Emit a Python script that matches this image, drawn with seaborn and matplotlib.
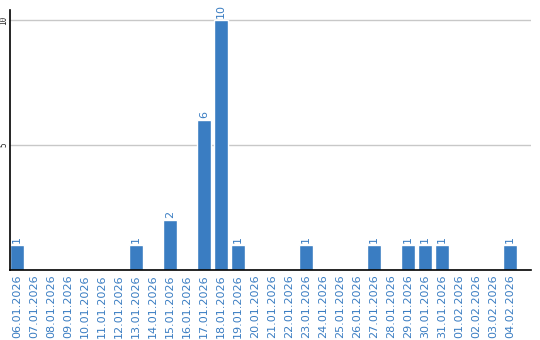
import matplotlib
matplotlib.use("Agg")
import matplotlib.pyplot as plt
import seaborn as sns
import pandas as pd

dates = ["06.01.2026", "07.01.2026", "08.01.2026", "09.01.2026", "10.01.2026",
         "11.01.2026", "12.01.2026", "13.01.2026", "14.01.2026", "15.01.2026",
         "16.01.2026", "17.01.2026", "18.01.2026", "19.01.2026", "20.01.2026",
         "21.01.2026", "22.01.2026", "23.01.2026", "24.01.2026", "25.01.2026",
         "26.01.2026", "27.01.2026", "28.01.2026", "29.01.2026", "30.01.2026",
         "31.01.2026", "01.02.2026", "02.02.2026", "03.02.2026", "04.02.2026"]
counts = [1, 0, 0, 0, 0, 0, 0, 1, 0, 2,
          0, 6, 10, 1, 0, 0, 0, 1, 0, 0,
          0, 1, 0, 1, 1, 1, 0, 0, 0, 1]
yticks = [5, 10]

BLUE = "#3a7dc2"
sns.set_style("white")
plt.rcParams['font.family'] = ['DejaVu Sans']

df = pd.DataFrame({"date": dates, "count": counts})

fig = plt.figure(figsize=(5.4, 3.4), dpi=100)
ax = fig.add_axes([10 / 540, 70 / 340, 521 / 540, 260 / 340])
sns.barplot(data=df, x="date", y="count", color=BLUE, saturation=1,
            width=14 / 17, ax=ax, zorder=3)
ax.set_xlim(-0.412, 30.24)
ax.set_ylim(0, 10.4)
ax.set_yticks(yticks)
ax.set_yticklabels([str(v) for v in yticks], rotation=90, fontsize=5.5,
                   family="DejaVu Sans Mono", va="center")
ax.tick_params(axis="y", length=0, pad=1)
ax.tick_params(axis="x", length=0, pad=3, labelsize=8, labelcolor=BLUE)
ax.set_xticks(range(len(dates)))
ax.set_xticklabels(dates, rotation=90)
ax.set_xlabel("")
ax.set_ylabel("")
ax.yaxis.grid(True, color="#c8c8c8", linewidth=1, zorder=0)
ax.set_axisbelow(True)
for s in ["top", "right"]:
    ax.spines[s].set_visible(False)
for s in ["left", "bottom"]:
    ax.spines[s].set_color("black")
    ax.spines[s].set_linewidth(1.2)
    ax.spines[s].set_zorder(5)

for i, v in enumerate(counts):
    if v > 0:
        ax.text(i, v + 0.08, str(v), rotation=90, ha="center", va="bottom",
                fontsize=8, color=BLUE)

fig.savefig("out.png", dpi=100)
